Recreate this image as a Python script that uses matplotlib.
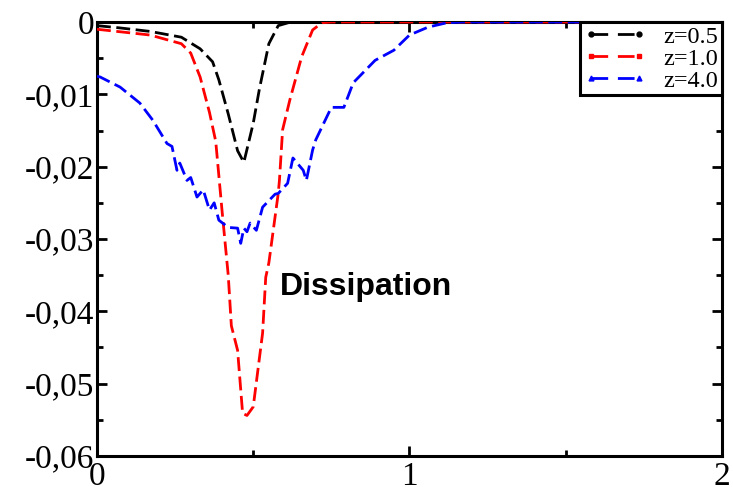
import matplotlib
matplotlib.use("Agg")
import matplotlib.pyplot as plt
from matplotlib.lines import Line2D
from matplotlib.ticker import MultipleLocator, FuncFormatter

# Dissipation profiles for three heights z
x_z05 = [0.0, 0.07, 0.17, 0.27, 0.33, 0.37, 0.39, 0.42, 0.45, 0.47, 0.50, 0.52,
         0.55, 0.58, 0.62, 0.80, 1.00, 1.20, 1.40, 1.60, 1.80, 2.00]
d_z05 = [-0.0005, -0.0008, -0.0013, -0.0021, -0.0037, -0.0055, -0.0080, -0.0127,
         -0.0178, -0.0194, -0.0140, -0.0092, -0.0030, -0.0005, 0.0, 0.0, 0.0, 0.0,
         0.0, 0.0, 0.0, 0.0]

x_z10 = [0.0, 0.17, 0.27, 0.30, 0.33, 0.36, 0.38, 0.40, 0.42, 0.43, 0.45, 0.466,
         0.48, 0.50, 0.53, 0.54, 0.55, 0.58, 0.584, 0.594, 0.617, 0.655, 0.69,
         0.72, 0.75, 1.00, 1.50, 2.00]
d_z10 = [-0.0010, -0.0018, -0.0030, -0.0043, -0.0076, -0.0125, -0.0165, -0.0260,
         -0.0350, -0.0420, -0.0454, -0.0541, -0.0544, -0.0532, -0.0430, -0.0353,
         -0.0333, -0.0237, -0.0218, -0.0149, -0.0108, -0.0048, -0.0011, -0.0001,
         0.0, 0.0, 0.0, 0.0]

x_z40 = [0.0, 0.01, 0.074, 0.137, 0.179, 0.224, 0.24, 0.256, 0.265, 0.288, 0.30,
         0.32, 0.34, 0.36, 0.375, 0.39, 0.42, 0.45, 0.46, 0.47, 0.48, 0.49, 0.51,
         0.53, 0.57, 0.58, 0.61, 0.627, 0.66, 0.67, 0.69, 0.70, 0.75, 0.79, 0.82,
         0.89, 0.95, 1.00, 1.06, 1.12, 1.17, 1.50, 2.00]
d_z40 = [-0.0075, -0.0076, -0.0090, -0.0112, -0.0136, -0.0168, -0.0172, -0.0205,
         -0.0195, -0.0219, -0.0215, -0.0242, -0.0232, -0.0260, -0.0250, -0.0274,
         -0.0284, -0.0285, -0.0306, -0.0285, -0.0290, -0.0278, -0.0288, -0.0256,
         -0.0238, -0.0237, -0.0223, -0.0188, -0.0205, -0.0219, -0.0177, -0.0163,
         -0.0118, -0.0118, -0.0084, -0.0053, -0.0039, -0.0018, -0.0007, -0.0001,
         0.0, 0.0, 0.0]

labels = ["z=0.5", "z=1.0", "z=4.0"]
colors = ["#000000", "#ff0000", "#0000ff"]
markers = ["o", "s", "^"]

plt.rcParams["axes.unicode_minus"] = False
serif = ["Liberation Serif", "DejaVu Serif"]

fig = plt.figure(figsize=(7.33, 4.87), dpi=100)
ax = fig.add_axes([0.1323, 0.0637, 0.8527, 0.8911])

series = [(x_z05, d_z05), (x_z10, d_z10), (x_z40, d_z40)]
for (xs, ys), c in zip(series, colors):
    ax.plot(xs, ys, color=c, lw=2.0, linestyle=(0, (5, 2)), zorder=3)

ax.set_xlim(0, 2)
ax.set_ylim(-0.06, 0)

ax.xaxis.set_major_locator(MultipleLocator(1))
ax.xaxis.set_minor_locator(MultipleLocator(0.5))
ax.yaxis.set_major_locator(MultipleLocator(0.01))
ax.yaxis.set_minor_locator(MultipleLocator(0.005))


def yfmt(v, pos):
    if abs(v) < 1e-12:
        return "0"
    return ("%.2f" % v).replace(".", ",")


ax.yaxis.set_major_formatter(FuncFormatter(yfmt))
ax.xaxis.set_major_formatter(FuncFormatter(lambda v, p: "%d" % round(v)))

ax.tick_params(which="both", direction="in", top=True, right=True, width=2.0)
ax.tick_params(which="major", length=7, pad=2, labelsize=24)
ax.tick_params(axis="x", which="major", pad=4)
ax.tick_params(which="minor", length=4)
for lab in ax.get_xticklabels() + ax.get_yticklabels():
    lab.set_family(serif)
for s in ax.spines.values():
    s.set_linewidth(2.2)

ax.text(0.86, -0.0366, "Dissipation", family=["Liberation Sans", "DejaVu Sans"],
        fontweight="bold", fontsize=23, ha="center", va="center")

handles = [Line2D([], [], color=c, lw=2.0, linestyle=(0, (6, 3.5)), marker=m,
                  markersize=3.5) for c, m in zip(colors, markers)]
leg = ax.legend(handles, labels, loc="upper right", prop={"family": serif, "size": 17.5},
                frameon=True, fancybox=False, edgecolor="black", framealpha=1,
                handlelength=2.6, handletextpad=0.7, borderpad=0.15,
                labelspacing=0.0, borderaxespad=0.0, numpoints=2)
leg.get_frame().set_linewidth(2.2)

fig.savefig("out.png", dpi=100)
